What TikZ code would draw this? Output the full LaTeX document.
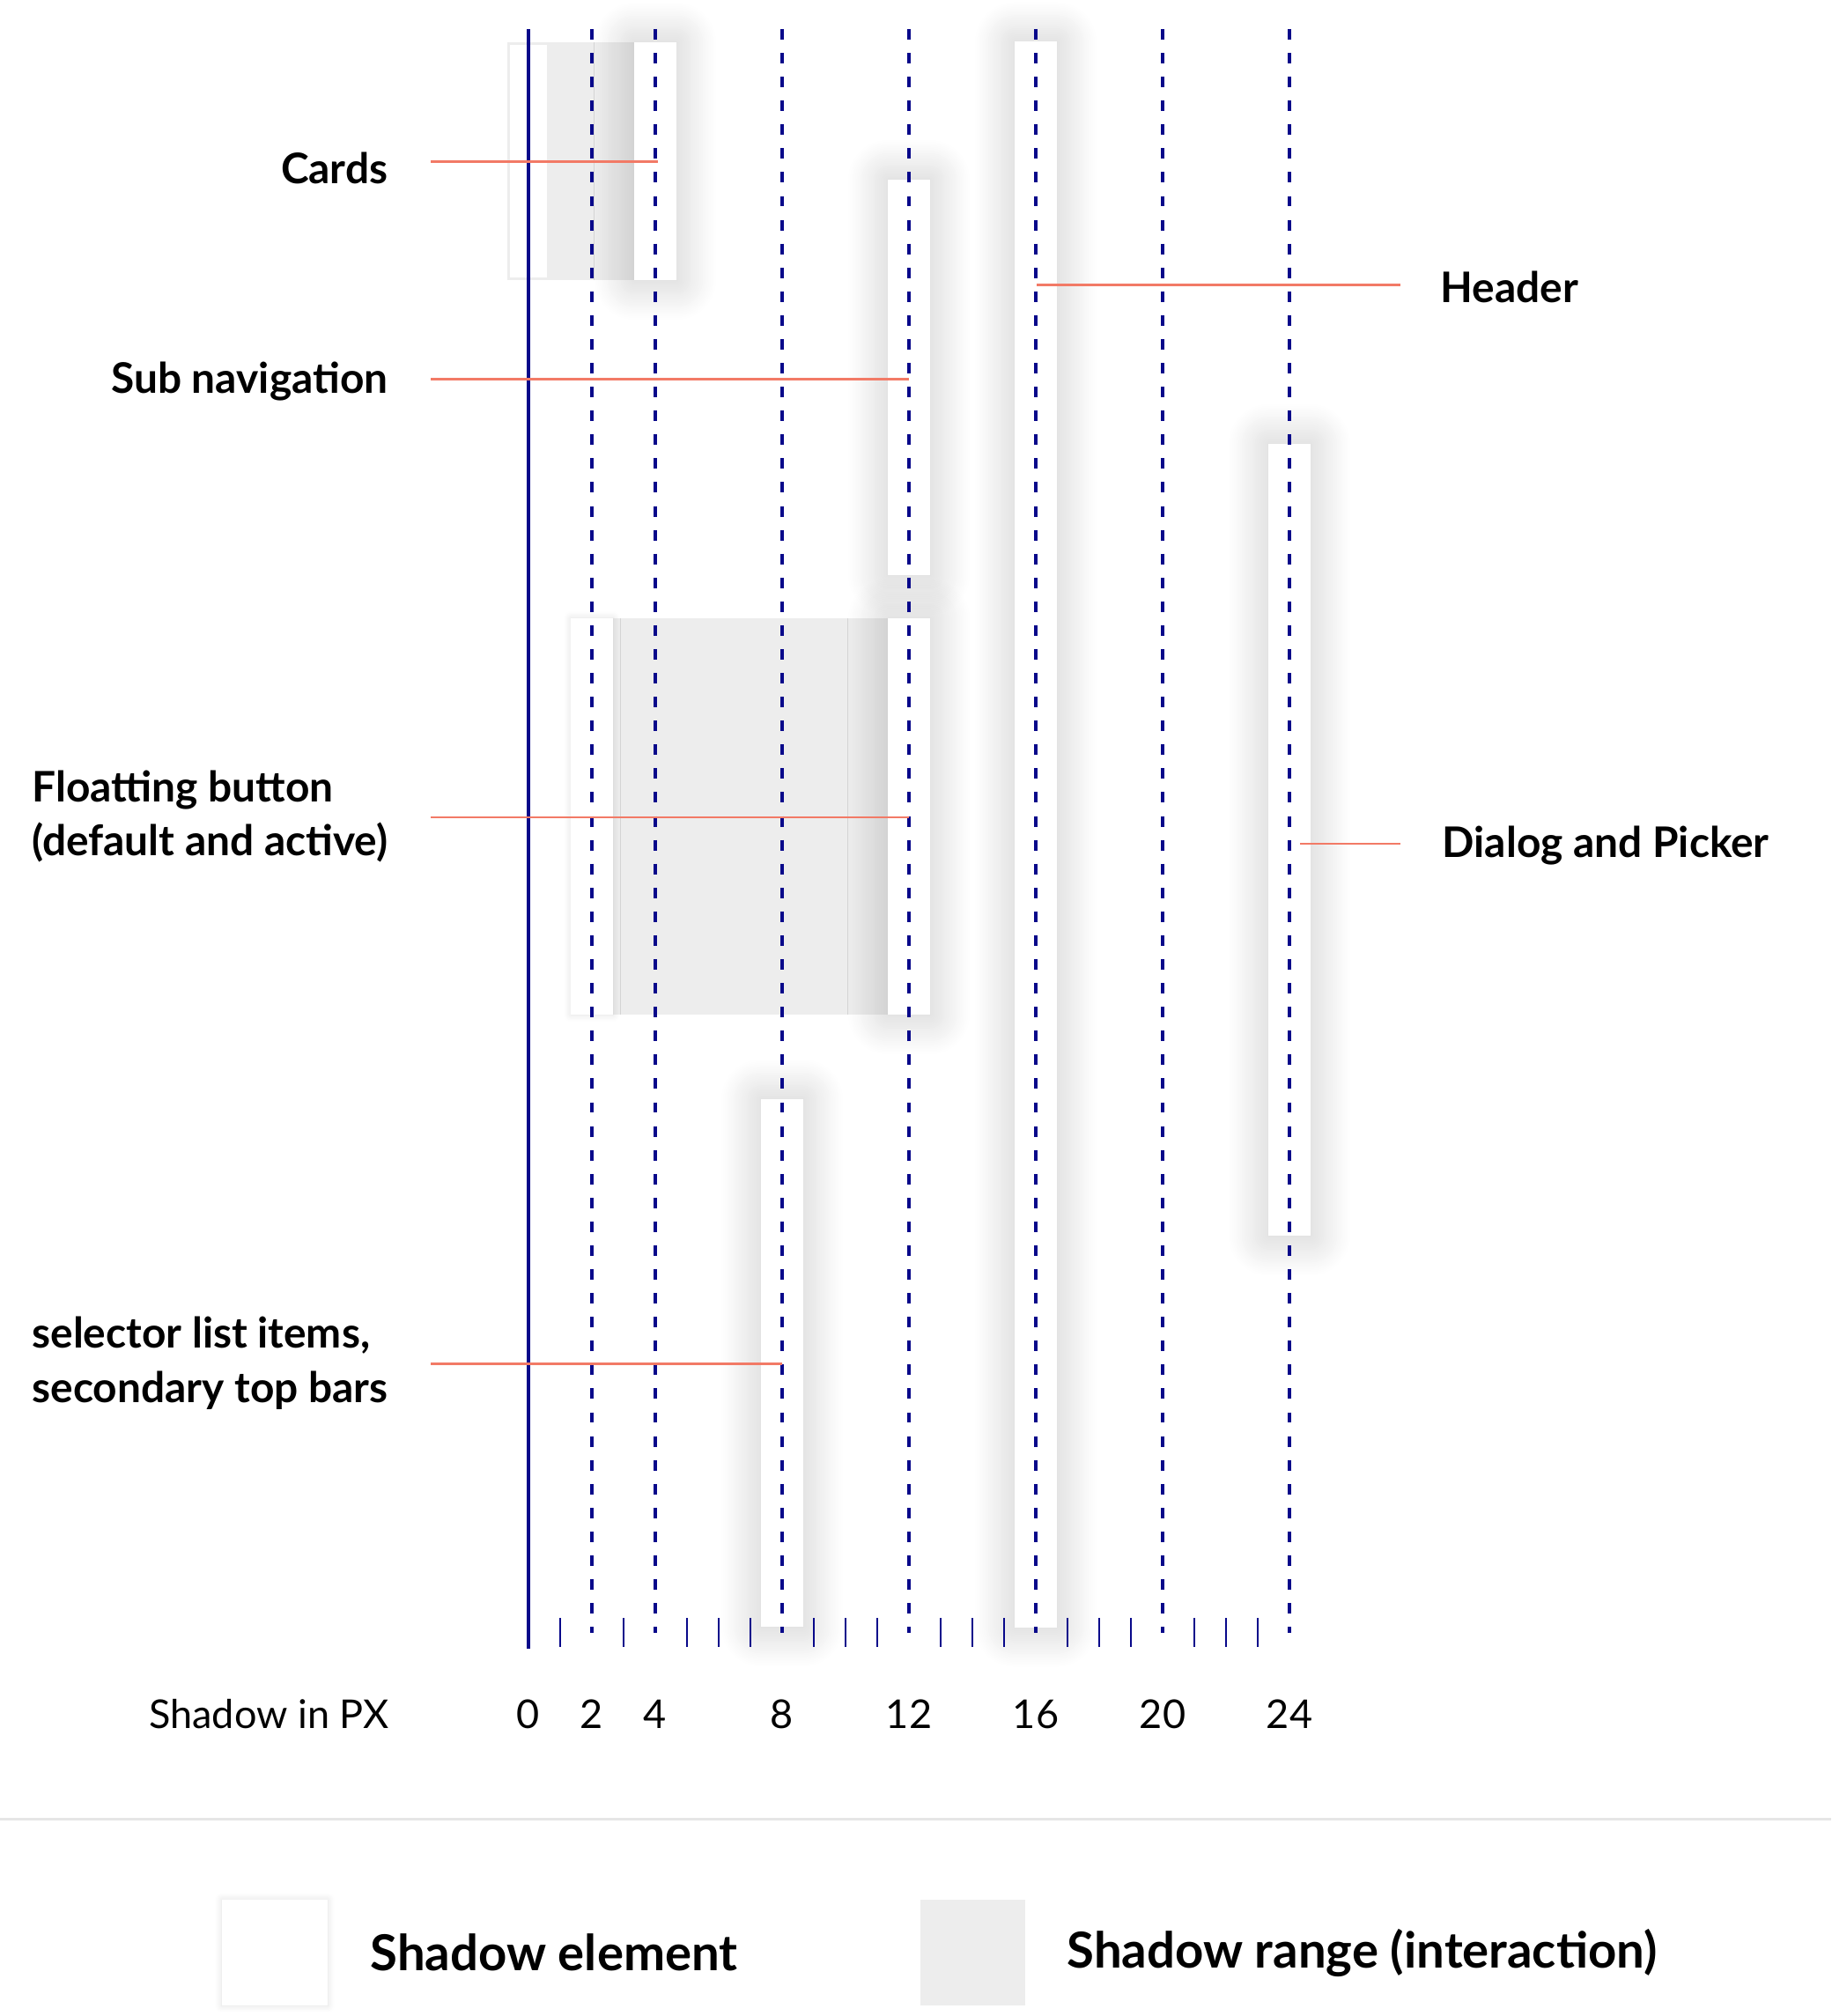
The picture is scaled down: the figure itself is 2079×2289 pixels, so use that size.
\documentclass[tikz,border=0pt]{standalone}
\usepackage{fontspec}
\setmainfont{Lato}
\usetikzlibrary{positioning,calc,shadows.blur}
\definecolor{axisblue}{HTML}{08088A}
\definecolor{leadred}{HTML}{F27A66}
\definecolor{range}{HTML}{EDEDED}
\definecolor{rulegray}{HTML}{E6E6E6}

\begin{document}
\begin{tikzpicture}[x=0.01cm, y=-0.01cm,
  elem/.style={fill=white, inner sep=0pt, minimum width=0.48cm,
               blur shadow={shadow xshift=0pt, shadow yshift=0pt,
                            shadow blur radius=0.45cm, shadow blur steps=25,
                            shadow opacity=22}},
  flat/.style={fill=white, inner sep=0pt, minimum width=0.48cm,
               blur shadow={shadow xshift=0pt, shadow yshift=0pt,
                            shadow blur radius=0.08cm, shadow blur steps=10,
                            shadow opacity=12}},
  band/.style={fill=range, inner sep=0pt},
  lbl/.style={font=\fontsize{13.6}{17.6}\selectfont\bfseries, align=left,
              inner sep=0pt},
  num/.style={font=\fontsize{12.8}{16}\selectfont, inner sep=0pt},
  key/.style={font=\fontsize{16}{20}\selectfont\bfseries, inner sep=0pt},
  guide/.style={axisblue, line width=1pt, dash pattern=on 3.4pt off 4.3pt},
  tick/.style={axisblue, line width=0.7pt},
  lead/.style={leadred, line width=0.85pt}
]
\useasboundingbox (0,0) rectangle (2079,2289);

% shadow ranges
\node[band, minimum width=1.44cm, minimum height=2.70cm] (cardsband) at (648,183) {};
\node[band, minimum width=3.12cm, minimum height=4.50cm] (floatband) at (852,927) {};
\node[fill=white, inner sep=0pt, minimum width=0.42cm, minimum height=2.64cm] (cardsL) at (600,183) {};

% shadow elements
\node[elem, minimum height=2.70cm] (cardsR) at (744,183) {};
\node[elem, minimum height=4.49cm] (subnav) at (1032,428.5) {};
\node[elem, minimum height=17.99cm] (header) at (1176,947.5) {};
\node[elem, minimum height=8.99cm] (dialog) at (1464,953.5) {};
\node[flat, minimum height=4.50cm] (floatL) at (672,927) {};
\node[elem, minimum height=4.50cm] (floatR) at (1032,927) {};
\node[elem, minimum height=5.99cm] (selector) at (888,1547.5) {};

% axis
\draw[axisblue, line width=1pt] (600,33) -- (600,1872);
\foreach \v in {2,4,8,12,16,20,24}
  \draw[guide] ({600+36*\v},33) -- ({600+36*\v},1854);
\foreach \v in {1,3,5,6,7,9,10,11,13,14,15,17,18,19,21,22,23}
  \draw[tick] ({600+36*\v},1837) -- ({600+36*\v},1870);
\foreach \v in {0,2,4,8,12,16,20,24}
  \node[num] (n\v) at ({600+36*\v},1946) {\v};
\node[num, anchor=east] (unit) at (442,1946) {Shadow in PX};

% labels
\node[lbl, anchor=east] (cards) at (441,191) {Cards};
\node[lbl, anchor=east] (subnavlbl) at (441,433) {Sub navigation};
\node[lbl, anchor=east] (floatlbl) at (441,927) {Floatting button\\(default and active)};
\node[lbl, anchor=east] (selectorlbl) at (441,1548) {selector list items,\\secondary top bars};
\node[lbl, anchor=west] (headerlbl) at (1635,326) {Header};
\node[lbl, anchor=west] (dialoglbl) at (1637,960) {Dialog and Picker};

% leaders
\draw[lead] ($(cards.east)+(48,-7)$) -- ($(cards.east -| cardsR.center)+(3,-7)$);
\draw[lead] ($(subnavlbl.east)+(48,-2)$) -- ($(subnavlbl.east -| subnav.center)+(0,-2)$);
\draw[lead] ($(floatlbl.east)+(48,1)$) -- ($(floatlbl.east -| floatR.center)+(0,1)$);
\draw[lead] ($(selectorlbl.east)+(48,0)$) -- (selectorlbl.east -| selector.center);
\draw[lead] ($(header.center |- headerlbl.west)+(1,-2)$) -- ($(headerlbl.west)+(-45,-2)$);
\draw[lead] ($(dialog.center |- dialoglbl.west)+(12,-2)$) -- ($(dialoglbl.west)+(-47,-2)$);

% legend
\draw[rulegray, line width=0.85pt] (0,2065) -- (2079,2065);
\node[flat, minimum width=1.2cm, minimum height=1.2cm] (keyelem) at (312,2217) {};
\node[key, right=0.47cm of keyelem] (keyelemlbl) {Shadow element};
\node[band, minimum width=1.19cm, minimum height=1.2cm] (keyrange) at (1104.5,2217) {};
\node[key, right=0.46cm of keyrange] (keyrangelbl) {Shadow range (interaction)};
\end{tikzpicture}
\end{document}
